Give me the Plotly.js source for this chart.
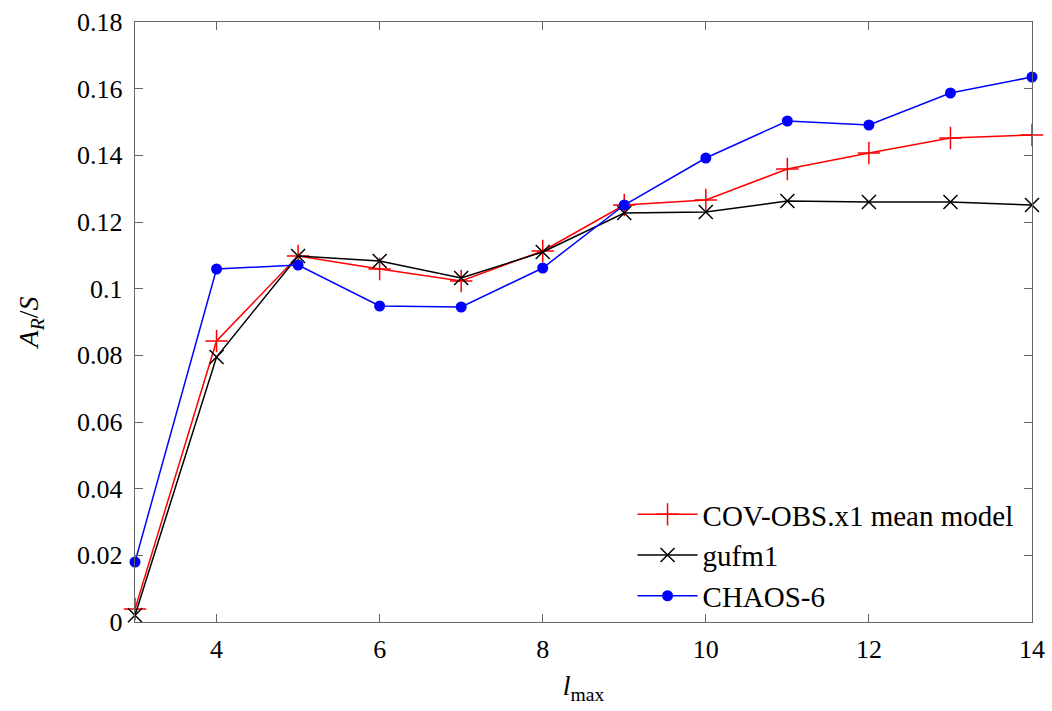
<!DOCTYPE html>
<html>
<head>
<meta charset="utf-8">
<script src="https://cdn.plot.ly/plotly-3.0.1.min.js"></script>
<style>html,body{margin:0;padding:0;background:#fff;}#chart{width:1052px;height:711px;}</style>
</head>
<body>
<div id="chart"></div>
<script>
const lmax = [3, 4, 5, 6, 7, 8, 9, 10, 11, 12, 13, 14];
const covobs = [0.0039, 0.0843, 0.1098, 0.1059, 0.1023, 0.1113, 0.1251, 0.1266, 0.1359, 0.1407, 0.1452, 0.1461];
const gufm1 = [0.0020, 0.0795, 0.1098, 0.1083, 0.1032, 0.1110, 0.1227, 0.1230, 0.1263, 0.1260, 0.1260, 0.1251];
const chaos6 = [0.0180, 0.1059, 0.1071, 0.0948, 0.0945, 0.1062, 0.1251, 0.1392, 0.1503, 0.1491, 0.1587, 0.1635];
const yTickVals = [0, 0.02, 0.04, 0.06, 0.08, 0.1, 0.12, 0.14, 0.16, 0.18];
const yTickText = ["0", "0.02", "0.04", "0.06", "0.08", "0.1", "0.12", "0.14", "0.16", "0.18"];
const xTickVals = [4, 6, 8, 10, 12, 14];

const font = "Liberation Serif, DejaVu Serif, serif";

const traces = [
  {x: lmax, y: covobs, name: "COV-OBS.x1 mean model", mode: "lines+markers", cliponaxis: false,
   line: {color: "#ff0000", width: 1.5},
   marker: {symbol: "cross-thin-open", size: 16, line: {color: "#ff0000", width: 1.5}}},
  {x: lmax, y: gufm1, name: "gufm1", mode: "lines+markers", cliponaxis: false,
   line: {color: "#000000", width: 1.5},
   marker: {symbol: "x-thin-open", size: 14, line: {color: "#000000", width: 1.5}}},
  {x: lmax, y: chaos6, name: "CHAOS-6", mode: "lines+markers", cliponaxis: false,
   line: {color: "#0000ff", width: 1.5},
   marker: {symbol: "circle", size: 11, color: "#0000ff"}}
];

const layout = {
  width: 1052, height: 711,
  margin: {l: 135, r: 20, t: 22, b: 89},
  paper_bgcolor: "#fff", plot_bgcolor: "#fff",
  font: {family: font, size: 26, color: "#000"},
  showlegend: true,
  legend: {x: 0.985, y: 0.0, xanchor: "right", yanchor: "bottom",
           bgcolor: "rgba(0,0,0,0)", font: {family: font, size: 29},
           tracegroupgap: 0, itemwidth: 60},
  xaxis: {range: [3, 14], tickvals: xTickVals, ticks: "inside", ticklen: 8,
          tickcolor: "#666", showline: true, linecolor: "#666", linewidth: 1.2,
          mirror: "ticks", showgrid: false, zeroline: false, ticklabelstandoff: 4,
          tickfont: {family: font, size: 26},
          title: {text: "<i>l</i><sub>max</sub>", font: {family: font, size: 28}, standoff: 12}},
  yaxis: {range: [0, 0.18], tickvals: yTickVals, ticktext: yTickText, ticks: "inside", ticklen: 8,
          tickcolor: "#666", showline: true, linecolor: "#666", linewidth: 1.2,
          mirror: "ticks", showgrid: false, zeroline: false, ticklabelstandoff: 6,
          tickfont: {family: font, size: 26},
          title: {text: "<i>A</i><sub><i>R</i></sub>/<i>S</i>", font: {family: font, size: 28}, standoff: 30}}
};

Plotly.newPlot("chart", traces, layout, {displayModeBar: false, staticPlot: true});
</script>
</body>
</html>
